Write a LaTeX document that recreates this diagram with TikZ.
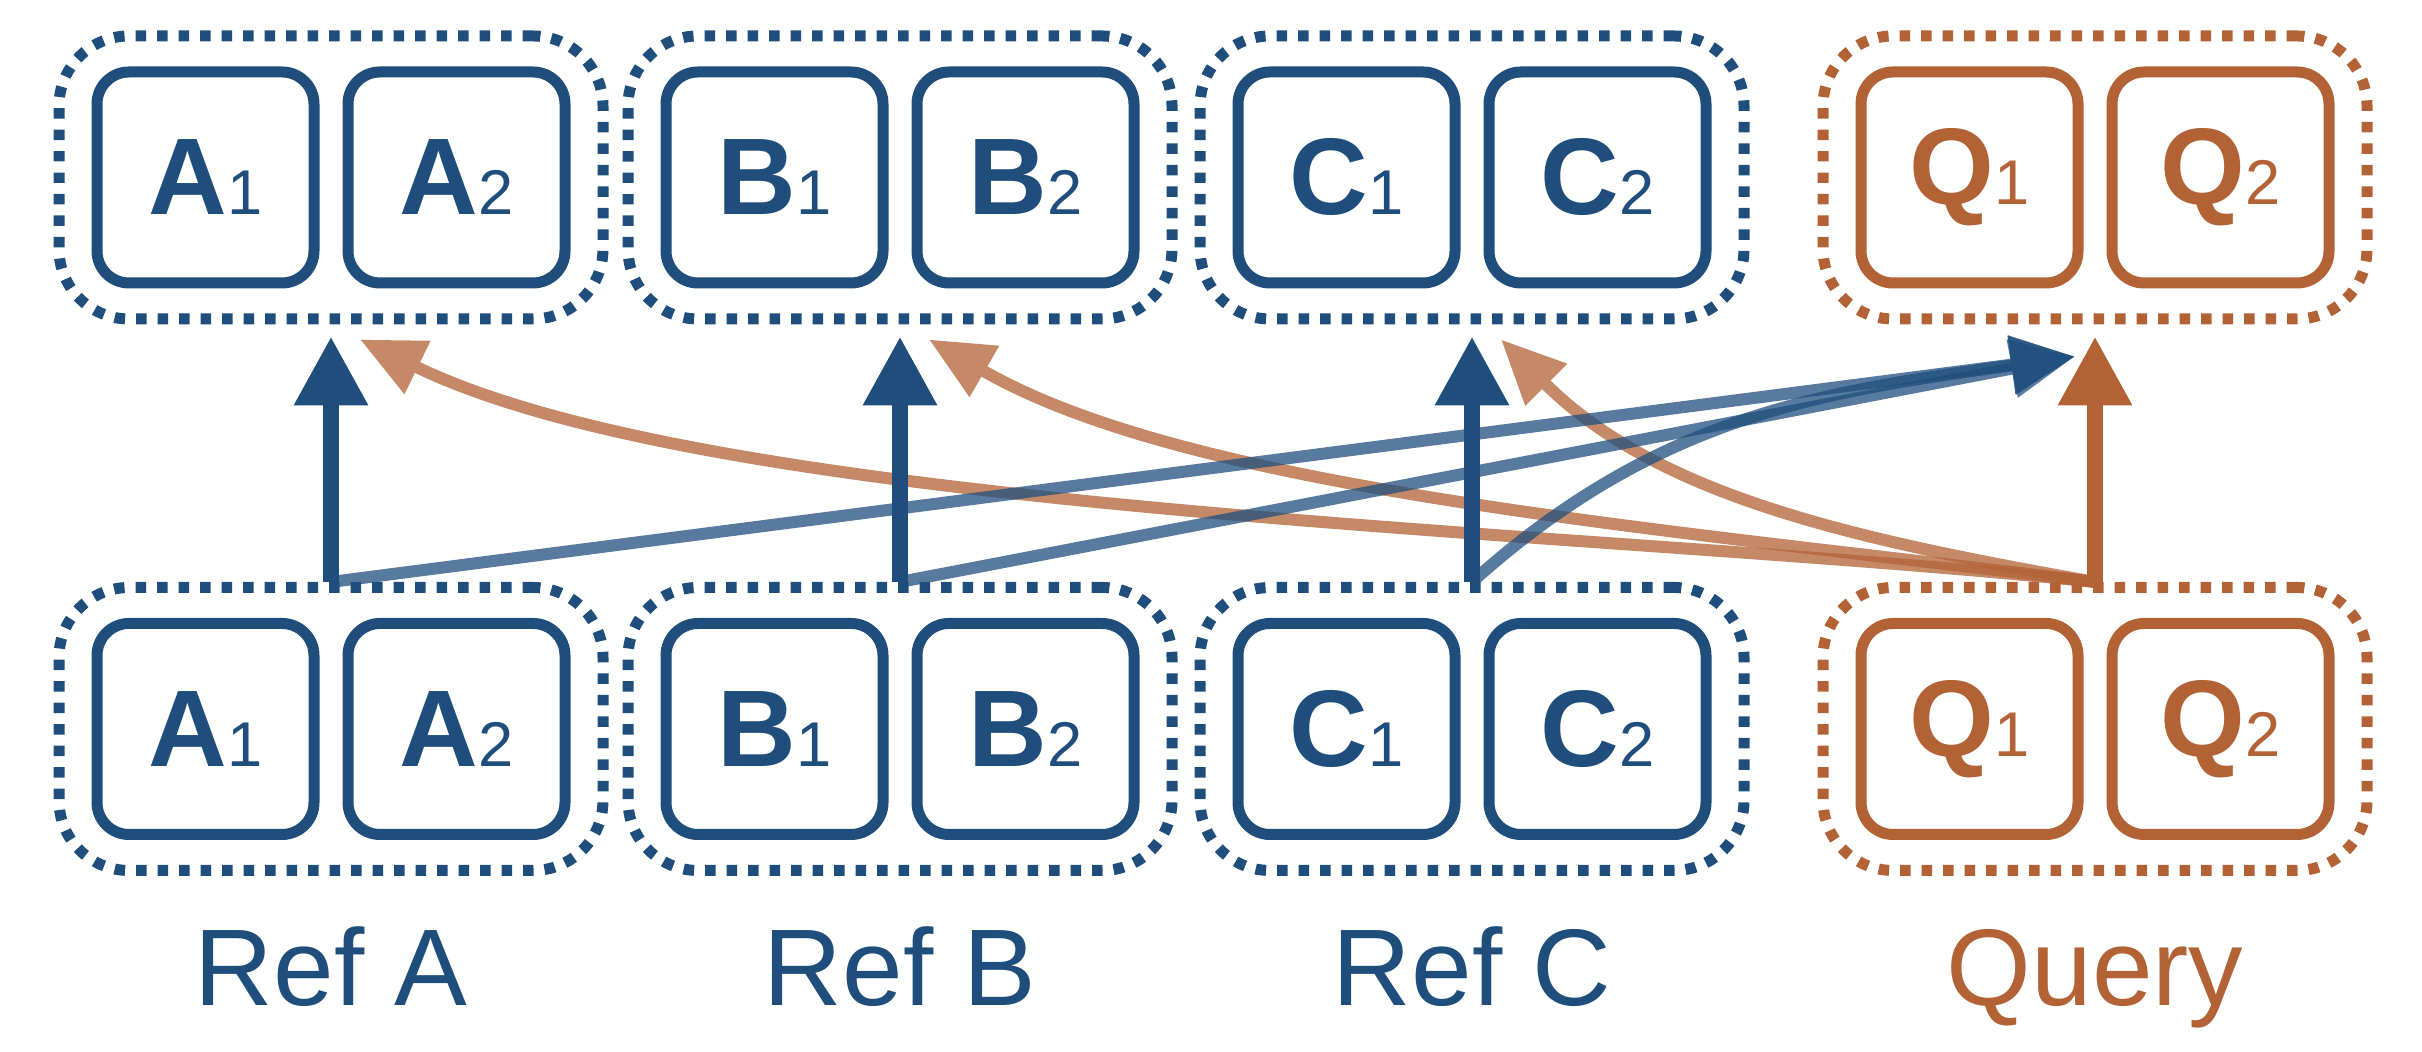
\documentclass[tikz,border=0pt]{standalone}
\usepackage{fontspec}
\setmainfont{Liberation Sans}
\usetikzlibrary{arrows.meta,positioning}
\definecolor{refblue}{HTML}{1F4E7D}
\definecolor{qorange}{HTML}{B36236}
\newcommand{\cellid}[2]{\textbf{#1}{\fontsize{18}{18}\selectfont #2}}

\begin{document}
\begin{tikzpicture}[
	cell/.style={draw, line width=0.11cm, rounded corners=0.32cm, minimum width=2.17cm, minimum height=2.11cm, inner sep=0pt, font=\fontsize{31}{31}\selectfont},
	groupbox/.style={draw, line width=0.11cm, dash pattern=on 0.105cm off 0.11cm, rounded corners=0.7cm, minimum width=5.44cm, minimum height=2.83cm},
	grouplabel/.style={anchor=base, font=\fontsize{31}{31}\selectfont},
	fwd/.style={line width=0.16cm, -{Triangle[length=0.69cm,width=0.7cm]}, shorten >=0.12cm},
	link/.style={line width=0.12cm, -{Triangle[length=0.64cm,width=0.56cm]}},
	faded/.style={transparency group, opacity=0.75}]
	\useasboundingbox (0,0) rectangle (24.22,10.52);

	% top row
	\node[groupbox, refblue] (tA) at (3.31,8.745) {};
	\node[cell, refblue] (ta1) at (2.055,8.745) {\cellid{A}{1}};
	\node[cell, refblue] (ta2) at (4.565,8.745) {\cellid{A}{2}};
	\node[groupbox, refblue] (tB) at (9.00,8.745) {};
	\node[cell, refblue] (tb1) at (7.745,8.745) {\cellid{B}{1}};
	\node[cell, refblue] (tb2) at (10.255,8.745) {\cellid{B}{2}};
	\node[groupbox, refblue] (tC) at (14.72,8.745) {};
	\node[cell, refblue] (tc1) at (13.465,8.745) {\cellid{C}{1}};
	\node[cell, refblue] (tc2) at (15.975,8.745) {\cellid{C}{2}};
	\node[groupbox, qorange] (tQ) at (20.95,8.745) {};
	\node[cell, qorange] (tq1) at (19.695,8.745) {\cellid{Q}{1}};
	\node[cell, qorange] (tq2) at (22.205,8.745) {\cellid{Q}{2}};

	% bottom row
	\node[groupbox, refblue] (bA) at (3.31,3.23) {};
	\node[cell, refblue] (ba1) at (2.055,3.23) {\cellid{A}{1}};
	\node[cell, refblue] (ba2) at (4.565,3.23) {\cellid{A}{2}};
	\node[groupbox, refblue] (bB) at (9.00,3.23) {};
	\node[cell, refblue] (bb1) at (7.745,3.23) {\cellid{B}{1}};
	\node[cell, refblue] (bb2) at (10.255,3.23) {\cellid{B}{2}};
	\node[groupbox, refblue] (bC) at (14.72,3.23) {};
	\node[cell, refblue] (bc1) at (13.465,3.23) {\cellid{C}{1}};
	\node[cell, refblue] (bc2) at (15.975,3.23) {\cellid{C}{2}};
	\node[groupbox, qorange] (bQ) at (20.95,3.23) {};
	\node[cell, qorange] (bq1) at (19.695,3.23) {\cellid{Q}{1}};
	\node[cell, qorange] (bq2) at (22.205,3.23) {\cellid{Q}{2}};

	\node[grouplabel, refblue] (lA) at (3.31,0.46) {Ref A};
	\node[grouplabel, refblue] (lB) at (9.00,0.46) {Ref B};
	\node[grouplabel, refblue] (lC) at (14.72,0.46) {Ref C};
	\node[grouplabel, qorange] (lQ) at (20.95,0.46) {Query};

	\coordinate (qin) at ([xshift=-0.2cm,yshift=-0.32cm]tQ.south);

	% cross links
	\begin{scope}[faded]
		\draw[link, qorange] (bQ.north) to[out=174,in=-26,out distance=5cm,in distance=4cm] ([xshift=0.29cm,yshift=-0.15cm]tA.south);
	\end{scope}
	\begin{scope}[faded]
		\draw[link, qorange] (bQ.north) to[out=173,in=-30,out distance=4.5cm,in distance=3cm] ([xshift=0.29cm,yshift=-0.15cm]tB.south);
	\end{scope}
	\begin{scope}[faded]
		\draw[link, qorange] (bQ.north) to[out=170,in=-45,out distance=2.5cm,in distance=2.2cm] ([xshift=0.29cm,yshift=-0.15cm]tC.south);
	\end{scope}
	\begin{scope}[faded]
		\draw[link, refblue] (bA.north) -- (qin);
	\end{scope}
	\begin{scope}[faded]
		\draw[link, refblue] (bB.north) -- (qin);
	\end{scope}
	\begin{scope}[faded]
		\draw[link, refblue] (bC.north) to[out=42,in=188] (qin);
	\end{scope}

	% same-group arrows
	\draw[fwd, refblue] (bA.north) -- (tA.south);
	\draw[fwd, refblue] (bB.north) -- (tB.south);
	\draw[fwd, refblue] (bC.north) -- (tC.south);
	\draw[fwd, qorange] (bQ.north) -- (tQ.south);
\end{tikzpicture}
\end{document}
